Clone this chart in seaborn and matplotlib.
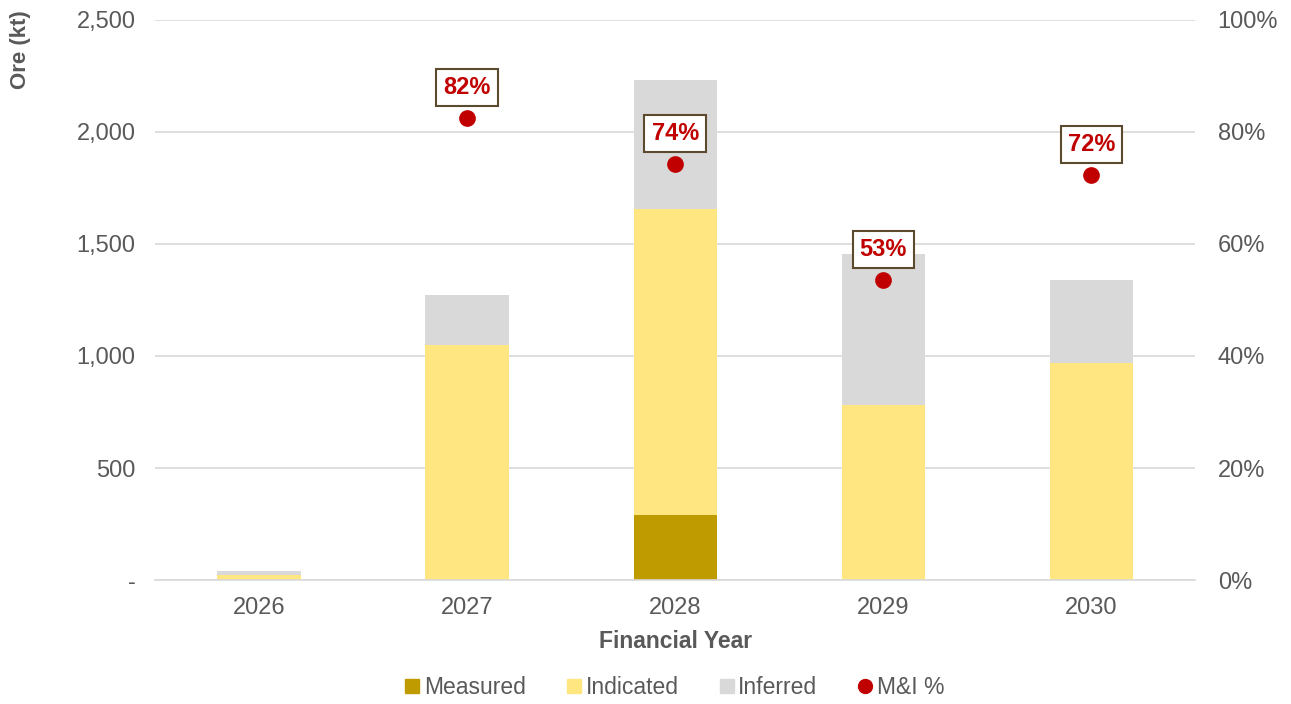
import numpy as np
import pandas as pd
import matplotlib
matplotlib.use("Agg")
import matplotlib.pyplot as plt
from matplotlib.lines import Line2D
from matplotlib.ticker import FuncFormatter, PercentFormatter
import seaborn as sns

# Data
years = ["2026", "2027", "2028", "2029", "2030"]
measured = [0, 0, 290, 0, 0]
indicated = [22, 1050, 1366, 781, 969]
inferred = [18, 222, 576, 674, 370]
mi_pct = [np.nan, 82.5, 74.3, 53.6, 72.3]
mi_labels = ["", "82%", "74%", "53%", "72%"]

c_meas = "#BF9B00"
c_ind = "#FFE680"
c_inf = "#D9D9D9"
c_mi = "#C00000"
c_text = "#595959"

sns.set_style("white")
plt.rcParams["font.family"] = ["Liberation Sans", "DejaVu Sans"]

df = pd.DataFrame({
    "year": years,
    "measured": measured,
    "indicated": indicated,
    "inferred": inferred,
    "mi": mi_pct,
})
df["top_ind"] = df["measured"] + df["indicated"]
df["total"] = df["top_ind"] + df["inferred"]

fig = plt.figure(figsize=(12.91, 7.04), dpi=100)
ax = fig.add_axes([0.120, 0.176, 0.806, 0.796])

# stacked bars by layering cumulative totals
for col, color in [("total", c_inf), ("top_ind", c_ind), ("measured", c_meas)]:
    sns.barplot(data=df, x="year", y=col, order=years, color=color,
                width=0.4, saturation=1, linewidth=0, ax=ax, zorder=2)

ax.set_ylim(0, 2500)
ax.set_yticks(np.arange(0, 2501, 500))
ax.yaxis.set_major_formatter(FuncFormatter(lambda v, p: "-" if v == 0 else f"{v:,.0f}"))
ax.grid(axis="y", color="#D9D9D9", linewidth=1.2, zorder=0)
ax.set_axisbelow(True)
for s in ["left", "right", "top"]:
    ax.spines[s].set_visible(False)
ax.spines["bottom"].set_color("#D9D9D9")
ax.spines["bottom"].set_linewidth(1.2)
ax.tick_params(axis="both", length=0, labelsize=17, labelcolor=c_text)
ax.tick_params(axis="y", pad=14)
ax.tick_params(axis="x", pad=12)
ax.set_xlabel("Financial Year", fontsize=16.5, fontweight="bold", color=c_text, labelpad=8)
ax.set_ylabel("")
fig.text(0.016, 0.93, "Ore (kt)", rotation=90, ha="center", va="center",
         fontsize=16, fontweight="bold", color=c_text)

# M&I % on secondary axis
ax2 = ax.twinx()
sns.pointplot(data=df, x="year", y="mi", order=years, color=c_mi,
              linestyle="none", errorbar=None, markersize=10, ax=ax2, zorder=3)
ax2.set_ylim(0, 100)
ax2.set_yticks(np.arange(0, 101, 20))
ax2.yaxis.set_major_formatter(PercentFormatter(decimals=0))
ax2.set_ylabel("")
for s in ["left", "right", "top", "bottom"]:
    ax2.spines[s].set_visible(False)
ax2.tick_params(axis="y", length=0, labelsize=17, labelcolor=c_text, pad=16)
ax2.set_xlim(-0.5, len(years) - 0.5)
ax.set_xlim(-0.5, len(years) - 0.5)

for i, (v, lab) in enumerate(zip(mi_pct, mi_labels)):
    if lab:
        ax2.annotate(lab, xy=(i, v), xytext=(0, 22), textcoords="offset points",
                     ha="center", va="center", fontsize=17, fontweight="bold",
                     color=c_mi,
                     bbox=dict(boxstyle="square,pad=0.3", fc="white",
                               ec="#5C4A2E", lw=1.5))

handles = [
    Line2D([], [], marker="s", linestyle="none", color=c_meas, markersize=10),
    Line2D([], [], marker="s", linestyle="none", color=c_ind, markersize=10),
    Line2D([], [], marker="s", linestyle="none", color=c_inf, markersize=10),
    Line2D([], [], marker="o", linestyle="none", color=c_mi, markersize=10),
]
leg = fig.legend(handles, ["Measured", "Indicated", "Inferred", "M&I %"],
                 loc="center", bbox_to_anchor=(0.521, 0.023), ncol=4,
                 frameon=False, fontsize=16.5, handletextpad=0.0,
                 columnspacing=1.6, handlelength=1.0)
for t in leg.get_texts():
    t.set_color(c_text)

fig.savefig("out.png", dpi=100)
